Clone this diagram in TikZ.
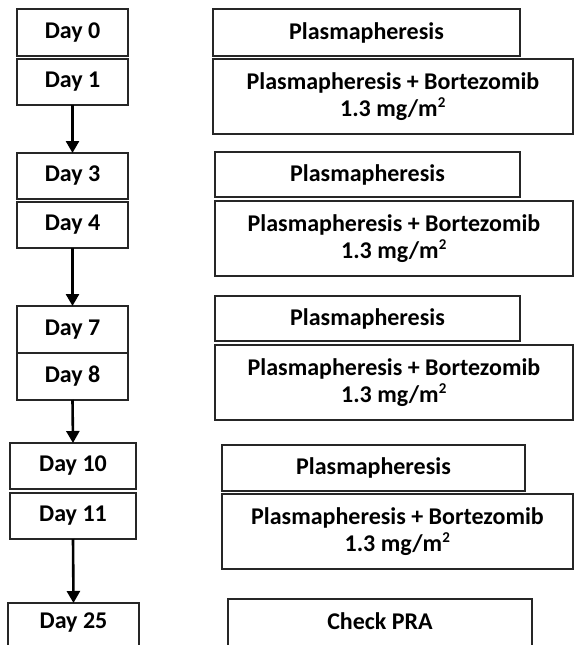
\documentclass[tikz,border=0pt]{standalone}
\usepackage{fontspec}
\setmainfont{Carlito}
\usetikzlibrary{arrows.meta}
\tikzset{
  txt/.style={font=\fontsize{24}{27}\selectfont\bfseries, align=center},
  bx/.style={txt, draw=black!85, line width=1.3pt, inner sep=0pt, outer sep=0pt,
    anchor=north west},
  flow/.style={line width=2.6pt, -{Triangle[width=13pt,length=12pt]}}
}
\newcommand{\bxat}[6]{% name, x1, y1, x2, y2, text
  \node[bx, minimum width={(#4-#2)*1pt}, minimum height={(#5-#3)*1pt}] (#1) at (#2pt,-#3pt) {#6};}
\newcommand{\sqm}{1.3 mg/m\textsuperscript{\fontsize{15}{15}\selectfont 2}}
\begin{document}
\begin{tikzpicture}[x=1pt,y=1pt]
\useasboundingbox (0,0) rectangle (575,-645);
\clip (0,0) rectangle (575,-645);
% left column
\bxat{d0}{17}{9}{128}{56}{Day 0}
\bxat{d1}{17}{59}{128}{105}{Day 1}
\bxat{d3}{17}{153}{128}{199}{Day 3}
\bxat{d4}{17}{202}{128}{248}{Day 4}
\bxat{d7}{17}{306}{128}{353}{Day 7}
\bxat{d8}{17}{353}{128}{400}{Day 8}
\bxat{d10}{10}{443}{136}{489}{Day 10}
\bxat{d11}{10}{493}{136}{539}{Day 11}
\bxat{d25}{8}{603}{139}{660}{}
\node[txt] (d25txt) at (73.5pt,-623pt) {Day 25};
% right column
\bxat{p0}{213}{9}{520}{56}{Plasmapheresis}
\bxat{b1}{213}{59}{573}{134}{Plasmapheresis + Bortezomib\\\sqm}
\bxat{p3}{215}{152}{520}{197}{Plasmapheresis}
\bxat{b4}{215}{201}{573}{276}{Plasmapheresis + Bortezomib\\\sqm}
\bxat{p7}{215}{296}{520}{341}{Plasmapheresis}
\bxat{b8}{215}{345}{573}{420}{Plasmapheresis + Bortezomib\\\sqm}
\bxat{p10}{222}{445}{525}{491}{Plasmapheresis}
\bxat{b11}{222}{494}{573}{569}{Plasmapheresis + Bortezomib\\\sqm}
\bxat{pra}{228}{599}{532}{660}{}
\node[txt] (pratxt) at (380pt,-621pt) {Check PRA};
% arrows
\draw[flow] (d1.south) -- (d3.north);
\draw[flow] (d4.south) -- (d7.north);
\draw[flow] (d8.south) -- (d10.north);
\draw[flow] (d11.south) -- (d25.north);
\end{tikzpicture}
\end{document}
